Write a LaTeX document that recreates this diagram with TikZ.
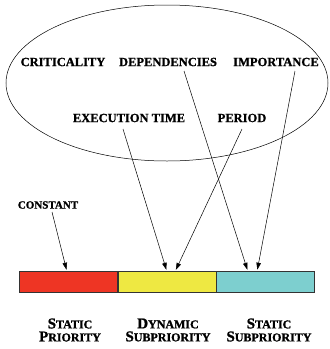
\documentclass[tikz,border=0pt]{standalone}
\usepackage{fontspec}
\setmainfont{Liberation Serif}
\newfontfamily\heavyfont[FakeBold=1.2]{Liberation Serif Bold}
\usetikzlibrary{arrows.meta}
\definecolor{barred}{HTML}{EE3524}
\definecolor{baryellow}{HTML}{EEE842}
\definecolor{barcyan}{HTML}{7DCFCF}
\tikzset{
  lbl/.style={font=\fontsize{12.5}{14}\selectfont\heavyfont, inner sep=1pt},
  sclbl/.style={font=\heavyfont, align=center, inner sep=1pt},
  seg/.style={draw=black!80, line width=0.6pt, minimum width=98pt, minimum height=21pt, inner sep=0pt},
  arr/.style={-{Triangle[length=7pt,width=4.5pt]}, line width=0.5pt, shorten >=2pt}
}
\newcommand{\scbig}[1]{{\fontsize{15}{18}\selectfont #1}}
\newcommand{\scsmall}[1]{{\fontsize{12}{18}\selectfont #1}}
\begin{document}
\begin{tikzpicture}[x=1pt,y=-1pt]
\useasboundingbox (0,0) rectangle (330,349);
\draw[line width=0.5pt] (167,83) ellipse [x radius=161, y radius=78];
\node[lbl] (crit) at (63,62) {CRITICALITY};
\node[lbl] (dep) at (168,62) {DEPENDENCIES};
\node[lbl] (imp) at (276,62) {IMPORTANCE};
\node[lbl] (exec) at (129,118) {EXECUTION TIME};
\node[lbl] (per) at (242,118) {PERIOD};
\node[lbl, font=\fontsize{11}{12}\selectfont\heavyfont] (const) at (48,205) {CONSTANT};
\node[seg, fill=barred] (red) at (68.5,281.5) {};
\node[seg, fill=baryellow] (yel) at (167,281.5) {};
\node[seg, fill=barcyan] (cya) at (265.5,281.5) {};
\node[sclbl] (l1) at (70,330) {\scbig{S}\scsmall{TATIC}\\[1pt]\scbig{P}\scsmall{RIORITY}};
\node[sclbl] (l2) at (168,330) {\scbig{D}\scsmall{YNAMIC}\\[1pt]\scbig{S}\scsmall{UBPRIORITY}};
\node[sclbl] (l3) at (269,330) {\scbig{S}\scsmall{TATIC}\\[1pt]\scbig{S}\scsmall{UBPRIORITY}};
\coordinate (cs) at (52,212);
\coordinate (es) at (123,129);
\coordinate (ps) at (242,129);
\coordinate (ds) at (184,71);
\coordinate (is) at (295,71);
\draw[arr] (cs) -- ([xshift=-1.5pt,yshift=-1pt]red.north);
\draw[arr] (es) -- ([yshift=-1pt]yel.north);
\draw[arr] (ps) -- ([xshift=8pt,yshift=-1pt]yel.north);
\draw[arr] (ds) -- ([xshift=-17.5pt,yshift=-1pt]cya.north);
\draw[arr] (is) -- ([xshift=-8.5pt,yshift=-1pt]cya.north);
\end{tikzpicture}
\end{document}
